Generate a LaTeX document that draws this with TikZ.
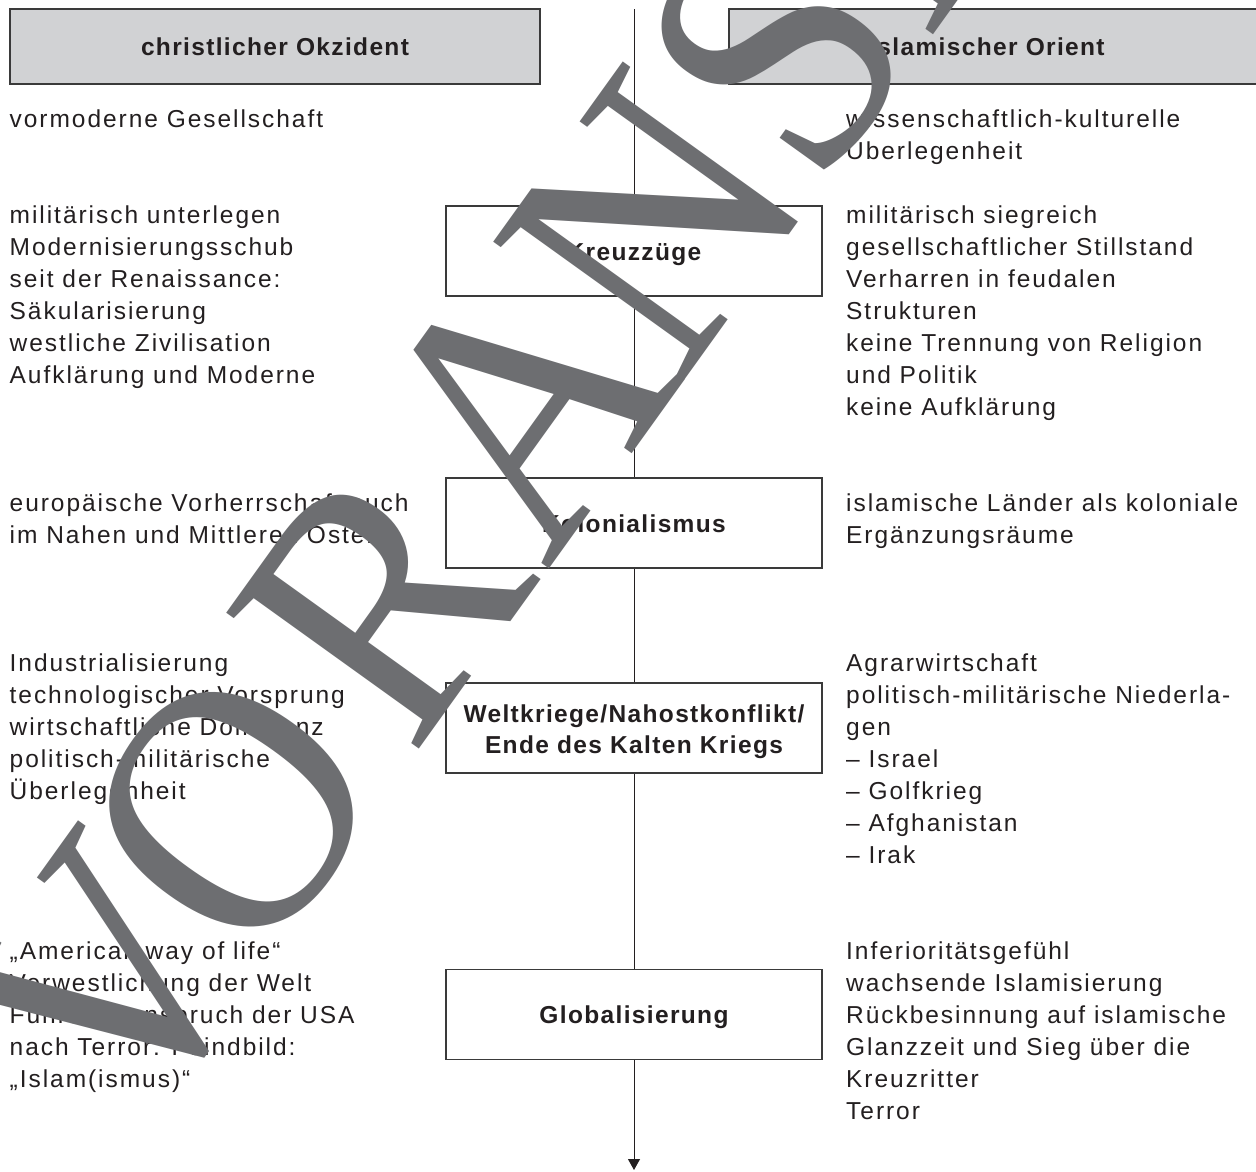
\documentclass[tikz,border=0pt]{standalone}
\usepackage{fontspec}
\setmainfont{Liberation Sans}
\newfontfamily\bodyfont{Liberation Sans}[LetterSpace=8]
\newfontfamily\boldfont{Liberation Sans}[LetterSpace=5.5]
\newfontfamily\wmfont{Liberation Serif}
\usetikzlibrary{arrows.meta}
\definecolor{txt}{HTML}{231F20}
\definecolor{hdrfill}{HTML}{D1D2D4}
\definecolor{wmgray}{HTML}{6D6E71}
\definecolor{frame}{HTML}{3A3A3A}
\begin{document}
\begin{tikzpicture}[x=1pt,y=-1pt,
  coltext/.style={anchor=north west, inner sep=0pt, align=left, text=txt,
    font=\bodyfont\fontsize{24.5}{32}\selectfont},
  ctrbox/.style={draw=frame, line width=1.2pt, fill=white, minimum width=376pt,
    minimum height=90pt, inner sep=0pt, text=txt,
    font=\boldfont\bfseries\fontsize{24.5}{31}\selectfont},
  oneline/.style={text height=18pt, text depth=0pt},
  headbox/.style={draw=frame, line width=1.2pt, fill=hdrfill, minimum height=75pt,
    inner sep=0pt, text=txt, font=\boldfont\bfseries\fontsize{24.5}{31}\selectfont,
    text height=18pt, text depth=0pt},
  spine/.style={draw=txt, line width=1pt},
  wm/.style={text=wmgray, inner sep=0pt, font=\wmfont\fontsize{360}{360}\selectfont}
]
\useasboundingbox (0,0) rectangle (1256,1171);
\fill[white] (0,0) rectangle (1256,1171);

% headers
\node[headbox, minimum width=530pt] (occ) at (275,46.5) {christlicher Okzident};
\node[headbox, minimum width=528pt] (ori) at (993,46.5) {\hspace*{-12pt}islamischer Orient};

% centre column
\coordinate (top) at (634,9);
\node[ctrbox, oneline] (kreuz) at (634,251) {Kreuzzüge};
\node[ctrbox, oneline] (kolon) at (634,523) {Kolonialismus};
\node[ctrbox, align=center] (welt) at (634,728) {\rule{0pt}{24.5pt}Weltkriege/Nahostkonflikt/\\Ende des Kalten Kriegs};
\node[ctrbox, oneline] (glob) at (634,1014.5) {Globalisierung};
\coordinate (tip) at (634,1170);
\draw[spine] (top) -- (kreuz.north);
\draw[spine] (kreuz.south) -- (kolon.north);
\draw[spine] (kolon.south) -- (welt.north);
\draw[spine] (welt.south) -- (glob.north);
\draw[spine, -{Triangle[width=12pt,length=11pt]}] (glob.south) -- (tip);

% left column
\node[coltext] (l1) at (9.5,104.6) {\strut vormoderne Gesellschaft};
\node[coltext] (l2) at (9.5,200.6) {\strut militärisch unterlegen\\Modernisierungsschub\\seit der Renaissance:\\Säkularisierung\\westliche Zivilisation\\Aufklärung und Moderne};
\node[coltext] (l3) at (9.5,488.6) {\strut europäische Vorherrschaft auch\\im Nahen und Mittleren Osten};
\node[coltext] (l4) at (9.5,648.6) {\strut Industrialisierung\\technologischer Vorsprung\\wirtschaftliche Dominanz\\politisch-militärische\\Überlegenheit};
\node[coltext] (l5) at (9.5,936.6) {\strut „American way of life“\\Verwestlichung der Welt\\Führungsanspruch der USA\\nach Terror: Feindbild:\\„Islam(ismus)“};

% right column
\node[coltext] (r1) at (846,104.6) {\strut wissenschaftlich-kulturelle\\Überlegenheit};
\node[coltext] (r2) at (846,200.6) {\strut militärisch siegreich\\gesellschaftlicher Stillstand\\Verharren in feudalen\\Strukturen\\keine Trennung von Religion\\und Politik\\keine Aufklärung};
\node[coltext] (r3) at (846,488.6) {\strut islamische Länder als koloniale\\Ergänzungsräume};
\node[coltext] (r4) at (846,648.6) {\strut Agrarwirtschaft\\politisch-militärische Niederla-\\gen\\– Israel\\– Golfkrieg\\– Afghanistan\\– Irak};
\node[coltext] (r5) at (846,936.6) {\strut Inferioritätsgefühl\\wachsende Islamisierung\\Rückbesinnung auf islamische\\Glanzzeit und Sieg über die\\Kreuzritter\\Terror};

% watermark
\node[wm, rotate=54.3, xscale=0.92, transform shape, anchor=base west] (wmark) at (132.2,1149.3) {V\kern-27pt O\kern30pt R\kern11pt A\kern-15pt NSICHT};
\end{tikzpicture}
\end{document}
